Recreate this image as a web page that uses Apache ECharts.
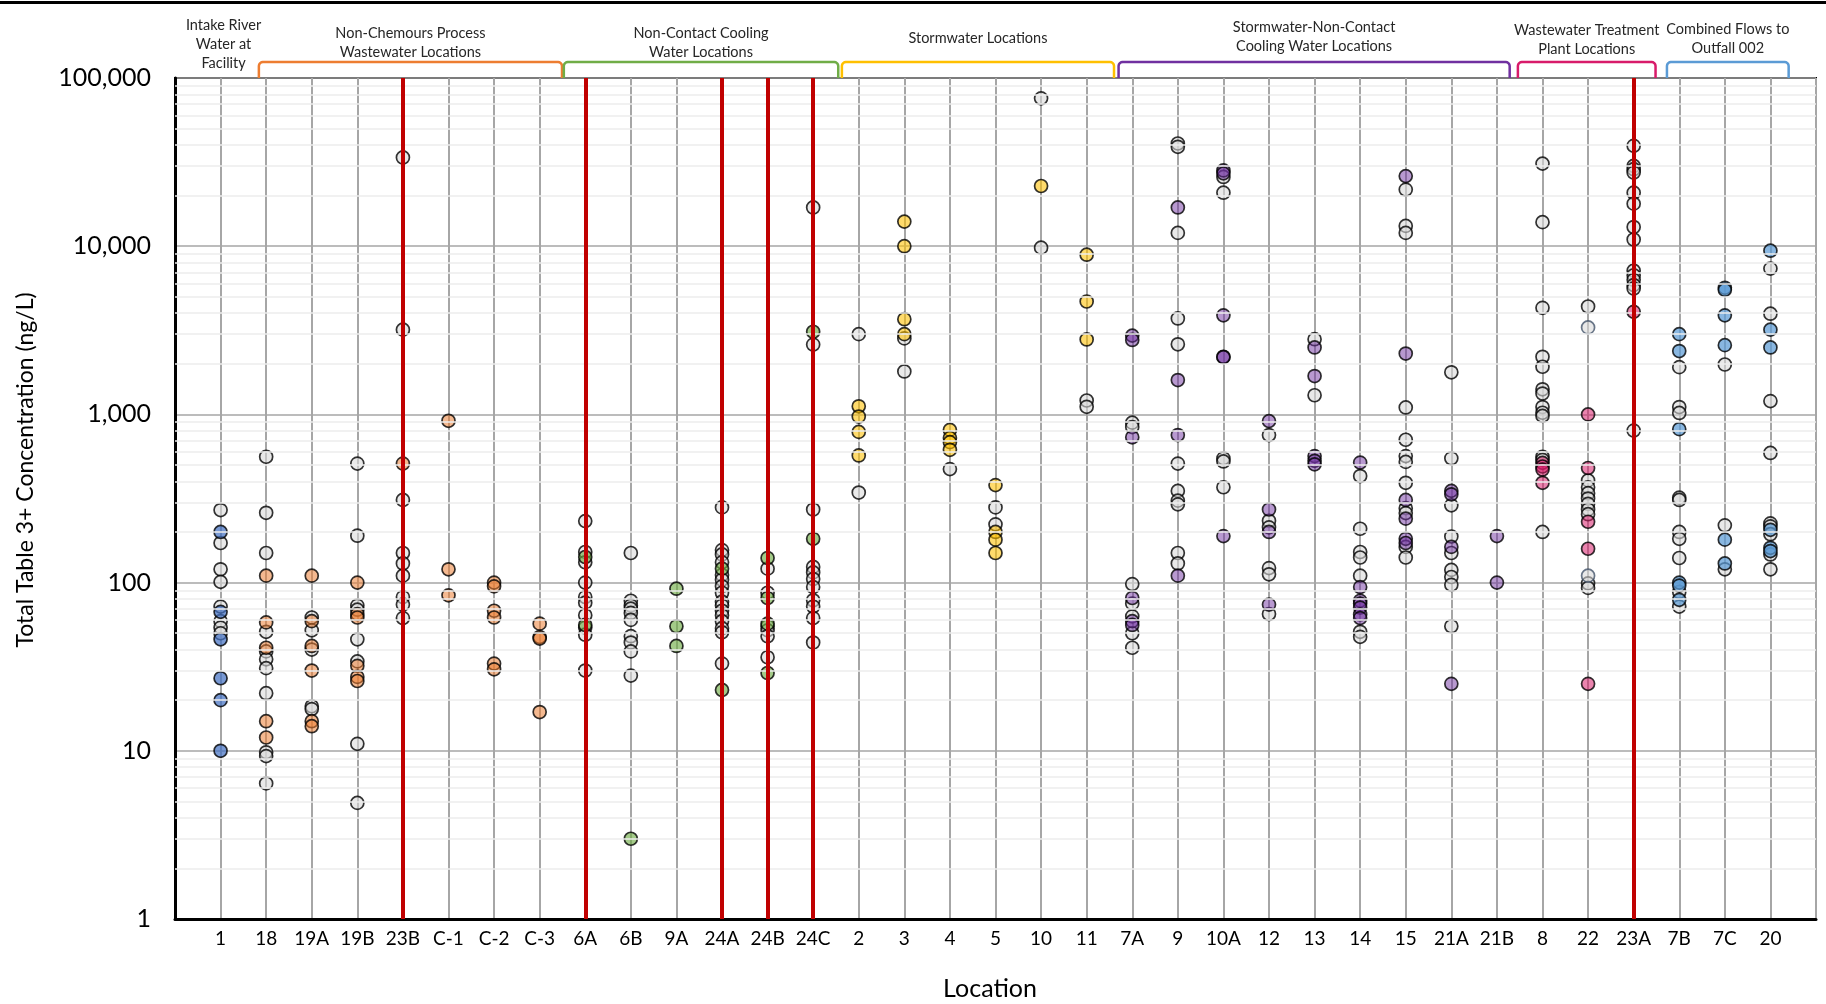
<!DOCTYPE html>
<html>
<head>
<meta charset="utf-8">
<title>Total Table 3+ Concentration by Location</title>
<script src="https://cdn.jsdelivr.net/npm/echarts@6/dist/echarts.min.js"></script>
<style>
  html, body { margin: 0; padding: 0; background: #fff; }
  #chart { width: 1826px; height: 1004px; }
</style>
</head>
<body>
<div id="chart"></div>
<script>
// --- Data ---------------------------------------------------------------------
const locations = ['1', '18', '19A', '19B', '23B', 'C-1', 'C-2', 'C-3', '6A', '6B', '9A', '24A',
  '24B', '24C', '2', '3', '4', '5', '10', '11', '7A', '9', '10A', '12', '13', '14', '15', '21A',
  '21B', '8', '22', '23A', '7B', '7C', '20'];

// group index of each location (same order as `locations`)
const groupOfLocation = [0, 1, 1, 1, 1, 1, 1, 1, 2, 2, 2, 2, 2, 2, 3, 3, 3, 3, 3, 3,
  4, 4, 4, 4, 4, 4, 4, 4, 4, 5, 5, 5, 6, 6, 6];

const groupLabels = [
  'Intake River\nWater at\nFacility',
  'Non-Chemours Process\nWastewater Locations',
  'Non-Contact Cooling\nWater Locations',
  'Stormwater Locations',
  'Stormwater-Non-Contact\nCooling Water Locations',
  'Wastewater Treatment\nPlant Locations',
  'Combined Flows to\nOutfall 002',
];

// locations drawn with a red guide line
const highlighted = ['23B', '6A', '24A', '24B', '24C', '23A'];

// coloured (group) results, ng/L, one list per location
const groupResults = [
  [200, 67, 46, 27, 20, 10],
  [110, 58, 41, 15, 12],
  [110, 59, 42, 30, 15, 14],
  [100, 65, 62, 32, 27.5, 26],
  [510],
  [916, 120, 84],
  [100, 95, 68, 62, 33, 30.5],
  [57, 47.5, 46.5, 17],
  [142, 56],
  [3.0],
  [92, 55, 42],
  [121, 23],
  [140, 81, 57, 29],
  [3100, 182],
  [1117, 971, 787, 570],
  [14000, 10000, 3680, 3000],
  [809, 724, 684, 616],
  [380, 200, 180, 150],
  [22800],
  [8900, 4690, 2790],
  [2940, 2770, 731, 81, 59, 56],
  [17000, 1600, 754, 110],
  [28200, 27100, 3880, 2200, 2190, 189],
  [912, 272, 200, 74],
  [2500, 1690, 565, 530, 505],
  [517, 94, 78, 75, 71, 64.6, 61.5],
  [26100, 2300, 310, 240, 182, 172],
  [351, 335, 163, 25],
  [189, 100],
  [515, 490, 470, 392],
  [1000, 480, 230, 159, 25],
  [4070],
  [3000, 2380, 817, 100, 96, 79],
  [5660, 5500, 3880, 2580, 180, 130],
  [9400, 3190, 2500, 206, 161, 154],
];

// grey results, ng/L, one list per location
const greyResults = [
  [270, 172, 120, 101, 72, 59, 54, 50],
  [560, 260, 150, 51, 39, 35, 31, 22, 9.8, 9.3, 6.4],
  [62, 52, 40, 18.4, 17.7],
  [510, 190, 73, 69, 46, 34, 11, 4.9],
  [33700, 3190, 310, 150, 130, 110, 82, 74, 61.5],
  [],
  [],
  [],
  [232, 152, 132, 100, 82, 76, 64, 54, 49, 30],
  [150, 78, 73, 70, 66, 60, 48, 44, 39, 28],
  [],
  [280, 156, 147, 132, 111, 104, 95, 87, 77, 73, 68, 64, 59, 53.5, 50.6, 33],
  [121, 87, 55, 52, 48, 36],
  [17000, 2600, 272, 124, 115, 105, 94, 78.5, 72, 61.5, 44],
  [3000, 343],
  [2830, 1800],
  [473],
  [280, 222],
  [75700, 9800],
  [1210, 1110],
  [893, 841, 98, 75, 63, 50, 41],
  [40800, 39000, 12000, 3720, 2610, 510, 351, 307, 292, 150, 130],
  [25800, 20800, 548, 525, 369],
  [754, 233, 213, 122, 112, 65],
  [2800, 1300],
  [430, 209, 152, 141, 110, 51, 47.6],
  [21700, 13200, 12000, 1100, 707, 565, 522, 392, 277, 259, 163, 141],
  [1780, 548, 288, 188, 150, 119, 108, 97, 55],
  [],
  [30970, 13900, 4300, 2200, 1920, 1410, 1330, 1106, 1023, 980, 560, 537, 200],
  [4380, 405, 369, 340, 316, 294, 272, 255, 99, 93],
  [39500, 30000, 28700, 27400, 20800, 17900, 13000, 10960, 7150, 6720, 6310, 5870, 5600, 801],
  [1910, 1106, 1020, 320, 310, 200, 182, 140, 88, 72],
  [1980, 219, 120],
  [7360, 3970, 1200, 590, 225, 216, 194, 147, 120],
];

// grey results with a slate outline (location 22)
const slateLocation = '22';
const slateResults = [3290, 110];

// --- Style / layout -------------------------------------------------------------
const FONT = 'Lato, "Open Sans", sans-serif';
const groupFill = ['rgba(68,114,196,0.9)', 'rgba(237,125,49,0.68)', 'rgba(112,173,71,0.8)',
  'rgba(255,192,0,0.72)', 'rgba(112,48,160,0.62)', 'rgba(216,27,106,0.68)', 'rgba(91,155,213,0.9)'];
const groupStroke = [null, '#ED7D31', '#70AD47', '#FFC000', '#7030A0', '#D81B6A', '#5B9BD5'];
// bracket span in x-axis units (location n sits at x = n + 1)
const bracketSpan = [null, [1.84, 8.49], [8.53, 14.55], [14.63, 20.6], [20.7, 29.28],
  [29.46, 32.48], [32.73, 35.4]];
const labelCenterY = [44, 43, 43, 38.5, 37.3, 39.5, 38.4];

const GRID = { left: 175, right: 10, top: 78, bottom: 85 };
const MARKER = 13;
const xOf = (name) => locations.indexOf(name) + 1;

// minor log gridlines (2..9 in each decade)
const minorLines = [];
for (let d = 1; d < 100000; d *= 10) {
  for (let m = 2; m <= 9; m++) minorLines.push({ yAxis: d * m });
}

const pointStyle = (fill, stroke) => ({ color: fill, borderColor: stroke || '#000', borderWidth: 1.7 });

const series = [];

// light minor gridlines
series.push({
  type: 'line', data: [], z: 0, silent: true,
  markLine: {
    silent: true, symbol: ['none', 'none'], label: { show: false }, animation: false,
    lineStyle: { color: '#EDEDED', width: 1.5, type: 'solid' },
    data: minorLines,
  },
});

// red guide lines
series.push({
  type: 'line', data: [], z: 1, silent: true,
  markLine: {
    silent: true, symbol: ['none', 'none'], label: { show: false }, animation: false,
    lineStyle: { color: '#C00000', width: 4, type: 'solid' },
    emphasis: { disabled: true },
    data: highlighted.map((n) => ({ xAxis: xOf(n) })),
  },
});

// grey points
series.push({
  type: 'scatter', z: 3, symbolSize: MARKER,
  itemStyle: pointStyle('rgba(217,217,217,0.72)'),
  data: greyResults.flatMap((vals, i) => vals.map((v) => [i + 1, v])),
});
series.push({
  type: 'scatter', z: 3, symbolSize: MARKER,
  itemStyle: pointStyle('rgba(217,217,217,0.72)', '#44546A'),
  data: slateResults.map((v) => [xOf(slateLocation), v]),
});

// coloured points, one series per group
groupLabels.forEach((label, g) => {
  const data = [];
  groupResults.forEach((vals, i) => {
    if (groupOfLocation[i] === g) vals.forEach((v) => data.push([i + 1, v]));
  });
  series.push({
    name: label.replace(/\n/g, ' '), type: 'scatter', z: 4, symbolSize: MARKER,
    itemStyle: pointStyle(groupFill[g]), data,
  });
});

const option = {
  animation: false,
  backgroundColor: '#fff',
  textStyle: { fontFamily: FONT },
  grid: { ...GRID, show: true, borderColor: '#000', borderWidth: 2, backgroundColor: 'transparent' },
  xAxis: {
    type: 'value', min: 0, max: locations.length + 1, interval: 1,
    axisLine: { show: true, onZero: false, lineStyle: { color: '#000', width: 3 } },
    axisTick: { show: false },
    splitLine: { show: true, lineStyle: { color: '#A6A6A6', width: 2 } },
    axisLabel: {
      margin: 10, fontSize: 19, color: '#000', fontFamily: FONT,
      formatter: (v) => locations[v - 1] || '',
    },
  },
  yAxis: {
    type: 'log', logBase: 10, min: 1, max: 100000,
    axisLine: { show: true, lineStyle: { color: '#000', width: 3 } },
    axisTick: { show: false },
    splitLine: { show: true, lineStyle: { color: '#A6A6A6', width: 1.5 } },
    axisLabel: {
      margin: 24, fontSize: 25, color: '#000', fontFamily: FONT,
      formatter: (v) => Math.round(v).toLocaleString('en-US'),
    },
  },
  series,
};

const chart = echarts.init(document.getElementById('chart'), null, { renderer: 'canvas' });
chart.setOption(option);

// --- Group brackets and labels (positioned through the x axis) -------------------
const px = (x) => chart.convertToPixel({ xAxisIndex: 0 }, x);
const BRACKET_Y = 62;
const PLOT_TOP = GRID.top;

// bracket outline with rounded top corners, as polyline points
function bracketPoints(x0, x1, r = 4) {
  const pts = [[x0, PLOT_TOP]];
  for (let k = 0; k <= 4; k++) {
    const a = Math.PI - (k / 4) * (Math.PI / 2);
    pts.push([x0 + r + r * Math.cos(a), BRACKET_Y + r - r * Math.sin(a)]);
  }
  for (let k = 0; k <= 4; k++) {
    const a = Math.PI / 2 - (k / 4) * (Math.PI / 2);
    pts.push([x1 - r + r * Math.cos(a), BRACKET_Y + r - r * Math.sin(a)]);
  }
  pts.push([x1, PLOT_TOP]);
  return pts;
}

const graphics = [
  { type: 'rect', shape: { x: 0, y: 1, width: 1826, height: 3 }, style: { fill: '#000' } },
  {
    type: 'text', x: 26, y: 470, rotation: Math.PI / 2,
    style: { text: 'Total Table 3+ Concentration (ng/L)', font: `23px ${FONT}`, fill: '#000',
      textAlign: 'center', textVerticalAlign: 'middle' },
  },
  {
    type: 'text', x: 990, y: 989,
    style: { text: 'Location', font: `25px ${FONT}`, fill: '#000',
      textAlign: 'center', textVerticalAlign: 'middle' },
  },
];

groupLabels.forEach((label, g) => {
  let cx;
  if (bracketSpan[g]) {
    const x0 = px(bracketSpan[g][0]);
    const x1 = px(bracketSpan[g][1]);
    cx = (x0 + x1) / 2;
    graphics.push({
      type: 'polyline',
      shape: { points: bracketPoints(x0, x1) },
      style: { fill: null, stroke: groupStroke[g], lineWidth: 2.5, lineJoin: 'round' },
    });
  } else {
    cx = px(groupOfLocation.indexOf(g) + 1) + 3;
  }
  graphics.push({
    type: 'text', x: cx, y: labelCenterY[g],
    style: { text: label, font: `14.5px ${FONT}`, lineHeight: 19, fill: '#262626',
      textAlign: 'center', textVerticalAlign: 'middle' },
  });
});

chart.setOption({ graphic: graphics });
</script>
</body>
</html>
